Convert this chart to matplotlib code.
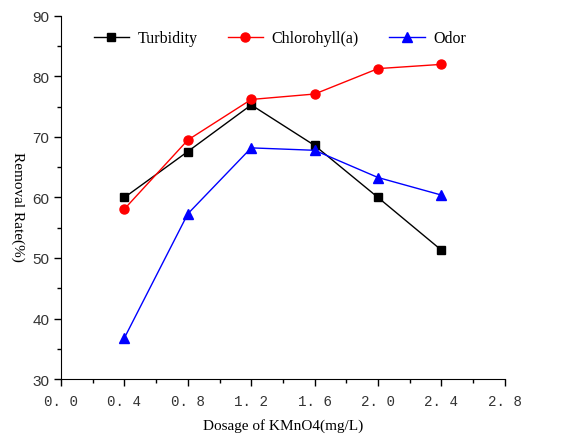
import matplotlib.pyplot as plt
from matplotlib.ticker import MultipleLocator

dosage = [0.4, 0.8, 1.2, 1.6, 2.0, 2.4]
turbidity = [60.0, 67.6, 75.3, 68.6, 60.0, 51.3]
chlorophyll = [58.1, 69.5, 76.2, 77.1, 81.3, 82.0]
odor = [36.8, 57.3, 68.2, 67.8, 63.3, 60.4]

x_ticks = [0.0, 0.4, 0.8, 1.2, 1.6, 2.0, 2.4, 2.8]
x_tick_labels = ["0. 0", "0. 4", "0. 8", "1. 2", "1. 6", "2. 0", "2. 4", "2. 8"]

fig = plt.figure(figsize=(5.73, 4.35), dpi=100)
ax = fig.add_axes([0.1065, 0.1264, 0.7745, 0.8346])

ax.plot(dosage, turbidity, color="black", lw=1, marker="s", ms=6, label="Turbidity")
ax.plot(dosage, chlorophyll, color="red", lw=1, marker="o", ms=6.5, label="Chlorohyll(a)")
ax.plot(dosage, odor, color="blue", lw=1, marker="^", ms=7, label="Odor")

ax.set_xlim(0, 2.8)
ax.set_ylim(30, 90)
ax.set_xticks(x_ticks)
ax.set_xticklabels(x_tick_labels, fontfamily="Liberation Mono", fontsize=10.2, color="#333333")
ax.xaxis.set_minor_locator(MultipleLocator(0.2))
ax.yaxis.set_major_locator(MultipleLocator(10))
ax.yaxis.set_minor_locator(MultipleLocator(5))
for lab in ax.get_yticklabels():
    lab.set_fontfamily("Liberation Sans")
    lab.set_fontsize(11)
    lab.set_color("#333333")

ax.spines["top"].set_visible(False)
ax.spines["right"].set_visible(False)
ax.tick_params(which="major", direction="out", length=5, width=1)
ax.tick_params(which="minor", direction="out", length=3, width=1)
ax.tick_params(axis="x", pad=6)

ax.set_xlabel("Dosage of KMnO4(mg/L)", fontfamily="Liberation Serif", fontsize=11, labelpad=7)
fig.text(18 / 573, 0.5 + 0.1264 / 2 - 0.04, "Removal Rate(%)", fontfamily="Liberation Serif",
         fontsize=11, rotation=270, ha="center", va="center")

ax.legend(loc="upper left", bbox_to_anchor=(0.041, 1.0), ncol=3, frameon=False,
          prop={"family": "Liberation Serif", "size": 11.5}, handlelength=2.2,
          handletextpad=0.55, columnspacing=1.9)

fig.savefig("out.png", dpi=100)
